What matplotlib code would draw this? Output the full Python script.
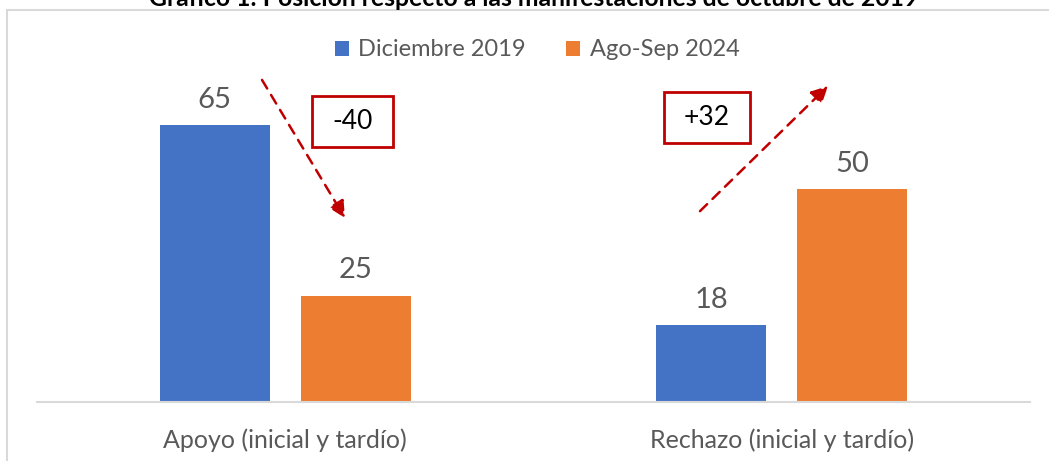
import matplotlib
matplotlib.use("Agg")
import matplotlib.pyplot as plt
from matplotlib.patches import Rectangle
import numpy as np

plt.rcParams['font.family'] = ['Lato', 'DejaVu Sans']

# data
categories = ["Apoyo (inicial y tardío)", "Rechazo (inicial y tardío)"]
series_names = ["Diciembre 2019", "Ago-Sep 2024"]
dic_2019 = [65, 18]
ago_sep_2024 = [25, 50]
changes = ["-40", "+32"]

blue = "#4472C4"
orange = "#ED7D31"
red = "#C00000"
gray_txt = "#595959"

W, H = 1049, 461
fig = plt.figure(figsize=(W / 100, H / 100), dpi=100)

# chart border (goes off the right and bottom edge)
fig.patches.append(Rectangle((7 / W, -0.1), 1.2, 1 - 10 / H + 0.1, transform=fig.transFigure,
                             fill=False, edgecolor="#D9D9D9", linewidth=1.5))

ax = fig.add_axes([37 / W, 1 - 402 / H, (1030 - 37) / W, 340.8 / H])
x = np.arange(len(categories))
bw = 0.2216
off = 0.142
b1 = ax.bar(x - off, dic_2019, bw, color=blue, label=series_names[0])
b2 = ax.bar(x + off, ago_sep_2024, bw, color=orange, label=series_names[1])

for bars, vals in [(b1, dic_2019), (b2, ago_sep_2024)]:
    for rect, v in zip(bars, vals):
        ax.annotate(str(v), (rect.get_x() + rect.get_width() / 2, v), xytext=(0, 9),
                    textcoords="offset points", ha="center", va="bottom",
                    fontsize=21, color=gray_txt)

ax.set_xlim(-0.5, 1.5)
ax.set_ylim(0, 80)
ax.set_xticks(x)
ax.set_xticklabels(categories, fontsize=18, color=gray_txt)
ax.tick_params(axis="x", length=0, pad=19)
ax.set_yticks([])
for s in ["top", "right", "left"]:
    ax.spines[s].set_visible(False)
ax.spines["bottom"].set_color("#D9D9D9")
ax.spines["bottom"].set_linewidth(1.5)

# arrows
ax.annotate("", xy=(0.1203, 43.2), xytext=(-0.0468, 75.6),
            arrowprops=dict(arrowstyle="-|>,head_length=1.0,head_width=0.5", color=red,
                            lw=1.8, linestyle=(0, (4, 3)), shrinkA=0, shrinkB=0))
ax.annotate("", xy=(1.0932, 74.2), xytext=(0.8353, 44.8),
            arrowprops=dict(arrowstyle="-|>,head_length=1.0,head_width=0.5", color=red,
                            lw=1.8, linestyle=(0, (4, 3)), shrinkA=0, shrinkB=0))

# change boxes
for (bx, by, bwid), txt in zip([(0.0539, 59.9, 0.163), (0.7628, 60.8, 0.1732)], changes):
    ax.add_patch(Rectangle((bx, by), bwid, 12.0, fill=False, edgecolor=red, linewidth=2))
    ax.text(bx + bwid / 2, by + 6.0, txt, ha="center", va="center", fontsize=19, color="black")

fig.legend(handles=[b1, b2], labels=series_names, loc="center", bbox_to_anchor=(537 / W, 1 - 50 / H),
           ncol=2, frameon=False, fontsize=17, labelcolor=gray_txt, handlelength=0.6,
           handleheight=0.6, handletextpad=0.4, columnspacing=1.7)

fig.text(534 / W, 1 - 6 / H, "Gráfico 1: Posición respecto a las manifestaciones de octubre de 2019",
         ha="center", va="baseline", fontsize=17.8, fontweight="bold", color="black")

fig.savefig("out.png", dpi=100)
